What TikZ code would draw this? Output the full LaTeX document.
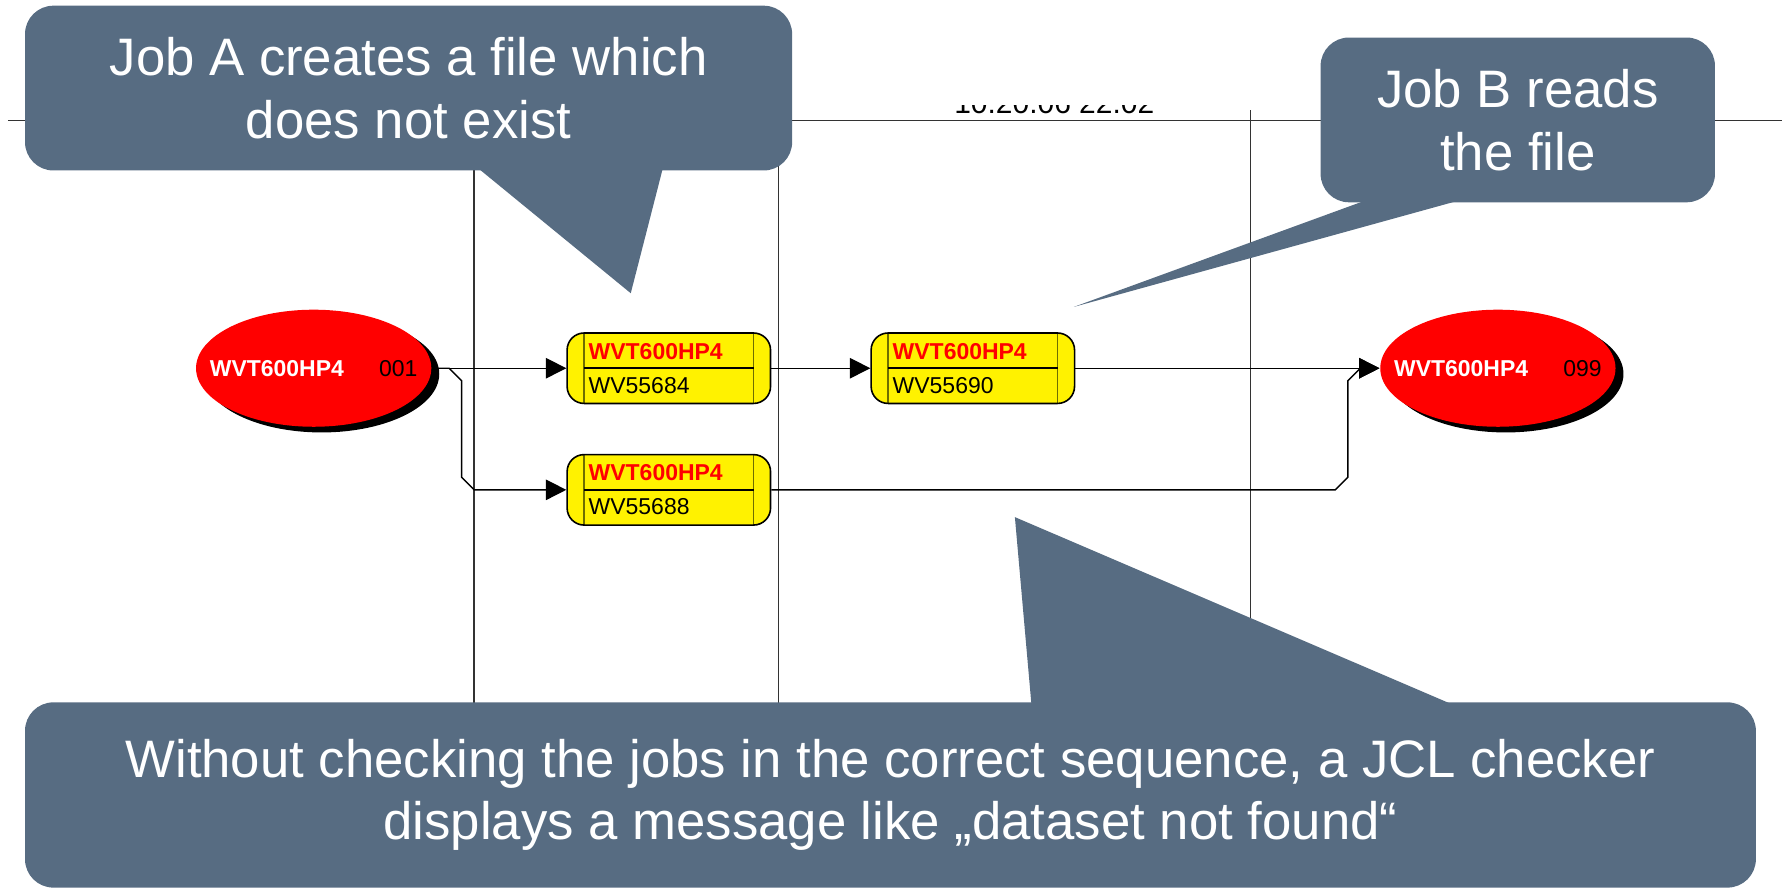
\documentclass[tikz,border=0pt]{standalone}
\usepackage{fontspec}
\setmainfont{Liberation Sans}
\usepackage{xcolor}
\usepackage{tikz}
\usetikzlibrary{arrows.meta, shapes.geometric, shadows, positioning}
\definecolor{bubble}{RGB}{87, 108, 130}
\definecolor{jobline}{RGB}{110, 110, 0}
\tikzset{
    ellipsenode/.style = {ellipse, fill=red, minimum width=2.07cm, minimum height=1.03cm, inner sep=0em,
      node distance=0em, font=\fontsize{5.75}{7}\selectfont,
      drop shadow={fill=black, opacity=1, shadow xshift=0.07cm, shadow yshift=-0.05cm}},
    jobnode/.style = {draw, rectangle, rounded corners=0.15cm, fill=yellow, minimum width=1.79cm,
      minimum height=0.62cm, text width=1.41cm, inner xsep=0.19cm, inner ysep=0em, align=left,
      node distance=0em, font=\fontsize{5.75}{8.5}\selectfont,
      path picture={
        \draw[jobline] ([xshift=0.15cm]path picture bounding box.north west) -- ([xshift=0.15cm]path picture bounding box.south west);
        \draw[jobline] ([xshift=-0.15cm]path picture bounding box.north east) -- ([xshift=-0.15cm]path picture bounding box.south east);
        \draw ([xshift=0.15cm]path picture bounding box.west) -- ([xshift=-0.15cm]path picture bounding box.east);
      }},
    bubblenode/.style = {fill=bubble, text=white, rounded corners=0.25cm, inner sep=0em, align=center,
      font=\fontsize{13.2}{15.7}\selectfont},
    stampnode/.style = {draw=none, inner sep=0em, font=\fontsize{7.5}{9}\selectfont},
    gridline/.style = {black!80, line width=0.3pt},
    connect/.style = {black, line width=0.35pt, -{Triangle[length=0.18cm, width=0.18cm]}}
}

\begin{document}
\begin{tikzpicture}[y=-1cm]
\useasboundingbox (0,0) rectangle (15.68,7.82);

% background lines
\draw[gridline] (0.07,1.06) -- (15.68,1.06);
\foreach \x in {4.17, 6.85, 11.00}
  \draw[gridline] (\x,0.97) -- (\x,6.30);
\begin{scope}
  \clip (8.2,0.93) rectangle (10.4,1.10);
  \node[stampnode, anchor=base west, name=stamp] at (8.39,1.00) {10.20.06 22.02};
\end{scope}

% jobs
\node[ellipsenode, name=e1] at (2.76,3.24) {\makebox[0pt]{\textcolor{white}{\bfseries WVT600HP4}\hspace{0.31cm}001}};
\node[jobnode, name=b1, right of = e1, xshift=3.125cm] {\textcolor{red}{\bfseries WVT600HP4}\\WV55684};
\node[jobnode, name=b2, below of = b1, yshift=-1.07cm] {\textcolor{red}{\bfseries WVT600HP4}\\WV55688};
\node[jobnode, name=b3, right of = b1, xshift=2.675cm] {\textcolor{red}{\bfseries WVT600HP4}\\WV55690};
\node[ellipsenode, name=e2, right of = b3, xshift=4.62cm] {\makebox[0pt]{\textcolor{white}{\bfseries WVT600HP4}\hspace{0.31cm}099}};

\draw (e1) edge[connect] (b1);
\draw (b1) edge[connect] (b3);
\draw (b3) edge[connect] (e2);
\draw[connect] (e1.east) -- ++(0.15,0) -- ++(0.11,0.11) -- ++(0,0.85) -- ++(0.11,0.11) -- (b2.west);
\draw[connect] (b2.east) -- (11.75,4.31) -- ++(0.11,-0.11) -- ++(0,-0.85) -- ++(0.11,-0.11) -- (e2.west);

% callouts
\node[bubblenode, name=jobA, minimum width=6.75cm, minimum height=1.45cm] at (3.595,0.775)
  {Job A creates a file which\\does not exist};
\fill[bubble] (4.17,1.45) -- (5.55,2.58) -- (5.84,1.45) -- cycle;

\node[bubblenode, name=jobB, minimum width=3.47cm, minimum height=1.45cm] at (13.355,1.055)
  {Job B reads\\the file};
\fill[bubble] (12.19,1.70) -- (9.45,2.70) -- (13.07,1.70) -- cycle;

\node[bubblenode, name=note, minimum width=15.23cm, minimum height=1.63cm] at (7.835,6.995)
  {Without checking the jobs in the correct sequence, a JCL checker\\displays a message like „dataset not found“};
\fill[bubble] (9.08,6.25) -- (8.93,4.55) -- (12.90,6.25) -- cycle;
\end{tikzpicture}
\end{document}
